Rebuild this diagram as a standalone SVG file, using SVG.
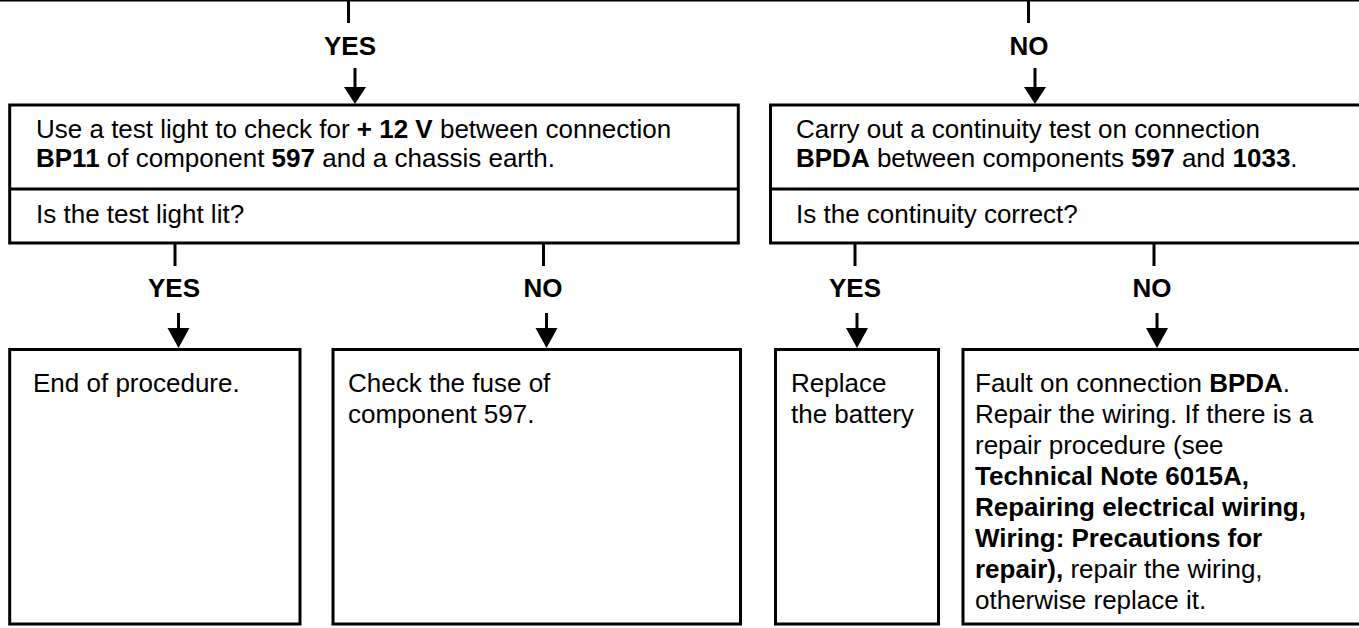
<svg xmlns="http://www.w3.org/2000/svg" width="1359" height="628" viewBox="0 0 1359 628">
<style>
.box{fill:#fff;stroke:#000;stroke-width:3}
.ln{stroke:#000;stroke-width:3;fill:none}
.t{font-family:"Liberation Sans",Arial,Helvetica,sans-serif;font-size:26px;fill:#000}
.b{font-weight:bold}
.lbl{font-family:"Liberation Sans",Arial,Helvetica,sans-serif;font-size:26px;font-weight:bold;fill:#000;text-anchor:middle}
.ah{fill:#000}
</style>
<rect width="1359" height="628" fill="#fff"/>
<g id="connectors">
  <line class="ln" x1="0" y1="0" x2="1359" y2="0"/>
  <line class="ln" x1="348.5" y1="0" x2="348.5" y2="23"/>
  <line class="ln" x1="1028.5" y1="0" x2="1028.5" y2="23"/>
  <line class="ln" x1="355" y1="68" x2="355" y2="90"/>
  <polygon class="ah" points="344,87 366,87 355,104"/>
  <line class="ln" x1="1035" y1="68" x2="1035" y2="90"/>
  <polygon class="ah" points="1024,87 1046,87 1035,104"/>
  <line class="ln" x1="175" y1="243" x2="175" y2="266"/>
  <line class="ln" x1="543.5" y1="243" x2="543.5" y2="266"/>
  <line class="ln" x1="855" y1="243" x2="855" y2="266"/>
  <line class="ln" x1="1154" y1="243" x2="1154" y2="266"/>
  <line class="ln" x1="178.5" y1="313" x2="178.5" y2="331"/>
  <polygon class="ah" points="167.5,328 189.5,328 178.5,348"/>
  <line class="ln" x1="546.5" y1="313" x2="546.5" y2="331"/>
  <polygon class="ah" points="535.5,328 557.5,328 546.5,348"/>
  <line class="ln" x1="857" y1="313" x2="857" y2="331"/>
  <polygon class="ah" points="846,328 868,328 857,348"/>
  <line class="ln" x1="1157" y1="313" x2="1157" y2="331"/>
  <polygon class="ah" points="1146,328 1168,328 1157,348"/>
  <text class="lbl" x="350" y="55">YES</text>
  <text class="lbl" x="1029" y="55">NO</text>
  <text class="lbl" x="174" y="297">YES</text>
  <text class="lbl" x="543" y="297">NO</text>
  <text class="lbl" x="855" y="297">YES</text>
  <text class="lbl" x="1152" y="297">NO</text>
</g>
<g id="test-light">
  <rect class="box" x="9.7" y="105" width="728.6" height="138"/>
  <line class="ln" x1="9.7" y1="189" x2="738.3" y2="189"/>
  <text class="t" x="36" y="138">Use a test light to check for <tspan class="b">+ 12 V</tspan> between connection</text>
  <text class="t" x="36" y="167"><tspan class="b">BP11</tspan> of component <tspan class="b">597</tspan> and a chassis earth.</text>
  <text class="t" x="36" y="223">Is the test light lit?</text>
</g>
<g id="continuity">
  <rect class="box" x="770.5" y="105" width="600" height="138"/>
  <line class="ln" x1="770.5" y1="189" x2="1370" y2="189"/>
  <text class="t" x="796" y="138">Carry out a continuity test on connection</text>
  <text class="t" x="796" y="167"><tspan class="b">BPDA</tspan> between components <tspan class="b">597</tspan> and <tspan class="b">1033</tspan>.</text>
  <text class="t" x="796" y="223">Is the continuity correct?</text>
</g>
<g id="end">
  <rect class="box" x="9.7" y="349.5" width="290.3" height="274.5"/>
  <text class="t" x="33" y="392">End of procedure.</text>
</g>
<g id="fuse">
  <rect class="box" x="333" y="349.5" width="407.5" height="274.5"/>
  <text class="t" x="348" y="392">Check the fuse of</text>
  <text class="t" x="348" y="423">component 597.</text>
</g>
<g id="battery">
  <rect class="box" x="775.5" y="349.5" width="163" height="274.5"/>
  <text class="t" x="791" y="392">Replace</text>
  <text class="t" x="791" y="423">the battery</text>
</g>
<g id="fault">
  <rect class="box" x="963" y="349.5" width="410" height="274.5"/>
  <text class="t" x="975" y="392">Fault on connection <tspan class="b">BPDA</tspan>.</text>
  <text class="t" x="975" y="423">Repair the wiring. If there is a</text>
  <text class="t" x="975" y="454">repair procedure (see</text>
  <text class="t b" x="975" y="485">Technical Note 6015A,</text>
  <text class="t b" x="975" y="516">Repairing electrical wiring,</text>
  <text class="t b" x="975" y="547">Wiring: Precautions for</text>
  <text class="t" x="975" y="578"><tspan class="b">repair),</tspan> repair the wiring,</text>
  <text class="t" x="975" y="609">otherwise replace it.</text>
</g>
</svg>
